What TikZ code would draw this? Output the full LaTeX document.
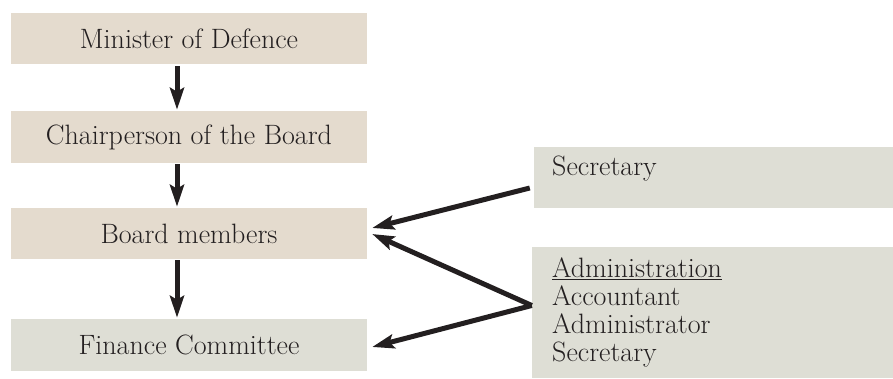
\documentclass[tikz,border=0pt]{standalone}
\usetikzlibrary{arrows.meta}
\definecolor{beige}{HTML}{E4DBCE}
\definecolor{grayg}{HTML}{DEDED5}
\definecolor{ink}{HTML}{231F20}
\begin{document}
\begin{tikzpicture}[x=1pt,y=-1pt,
  lbox/.style={fill=#1,draw=none,minimum width=356pt,inner sep=0pt,font=\fontsize{28}{28}\selectfont,text=ink},
  rbox/.style={fill=grayg,draw=none,inner sep=0pt},
  txt/.style={anchor=west,inner sep=0pt,font=\fontsize{28}{28}\selectfont,text=ink,align=left},
  arr/.style={draw=ink,line width=5pt,-{Stealth[length=22pt,width=14pt,inset=4pt]}}]
\useasboundingbox (0,0) rectangle (893,379);
\node[lbox=beige,minimum height=51pt] (b1) at (189,38.5) {Minister of Defence};
\node[lbox=beige,minimum height=52pt] (b2) at (189,137) {Chairperson of the Board};
\node[lbox=beige,minimum height=51pt] (b3) at (189,233.5) {Board members};
\node[lbox=grayg,minimum height=52pt] (b4) at (189,345) {Finance Committee};
\node[rbox,minimum width=359pt,minimum height=61pt] (sec) at (713.5,177.5) {};
\node[rbox,minimum width=361pt,minimum height=131pt] (adm) at (712.5,312.5) {};
\node[txt] (sect) at (552,169) {Secretary};
\node[txt,anchor=north west] (admt) at (552,258) {\underline{Administration}\\Accountant\\Administrator\\Secretary};
\draw[arr,shorten <=2pt,shorten >=1pt] ([xshift=-12pt]b1.south) -- ([xshift=-12pt]b2.north);
\draw[arr,shorten <=1pt,shorten >=1pt] ([xshift=-12pt]b2.south) -- ([xshift=-12pt]b3.north);
\draw[arr,shorten <=1pt,shorten >=1pt] ([xshift=-12pt]b3.south) -- ([xshift=-12pt]b4.north);
\coordinate (s0) at ([xshift=-4pt,yshift=-10.5pt]sec.west);
\coordinate (a0) at ([yshift=7pt]adm.west);
\draw[arr] (s0) -- ([xshift=5pt,yshift=5.5pt]b3.east);
\draw[arr] (a0) -- ([xshift=5pt,yshift=-0.5pt]b3.east);
\draw[arr] (a0) -- ([xshift=5pt,yshift=-2pt]b4.east);
\end{tikzpicture}
\end{document}
